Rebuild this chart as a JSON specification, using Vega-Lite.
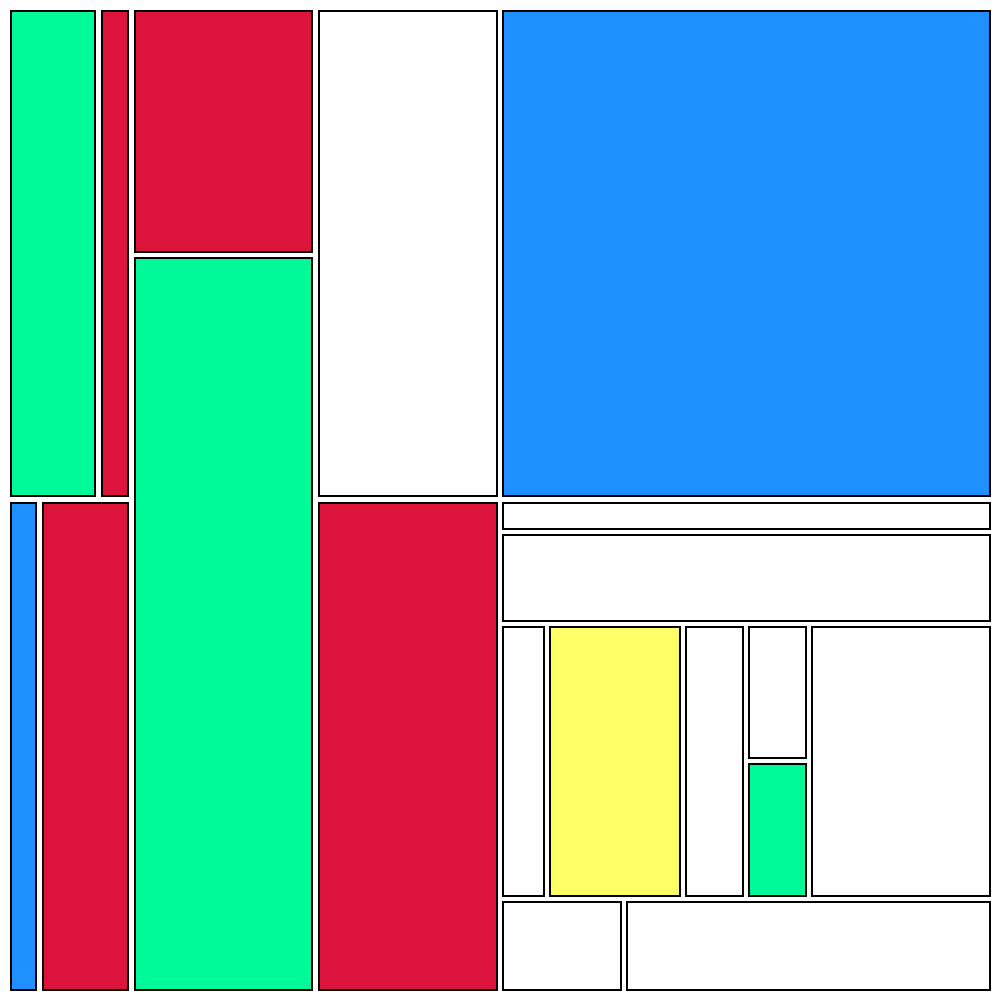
{
  "$schema": "https://vega.github.io/schema/vega-lite/v6.json",
  "width": 1000,
  "height": 1000,
  "padding": 0,
  "autosize": {"type": "none"},
  "background": "white",
  "config": {"view": {"stroke": null}},
  "data": {"values": [
    {"x": 11, "x2": 95, "y": 11, "y2": 496, "c": "green"},
    {"x": 102, "x2": 128, "y": 11, "y2": 496, "c": "red"},
    {"x": 135, "x2": 312, "y": 11, "y2": 252, "c": "red"},
    {"x": 135, "x2": 312, "y": 258, "y2": 990, "c": "green"},
    {"x": 319, "x2": 497, "y": 11, "y2": 496, "c": "white"},
    {"x": 503, "x2": 990, "y": 11, "y2": 496, "c": "blue"},
    {"x": 11, "x2": 36, "y": 503, "y2": 990, "c": "blue"},
    {"x": 43, "x2": 128, "y": 503, "y2": 990, "c": "red"},
    {"x": 319, "x2": 497, "y": 503, "y2": 990, "c": "red"},
    {"x": 503, "x2": 990, "y": 503, "y2": 529, "c": "white"},
    {"x": 503, "x2": 990, "y": 535, "y2": 621, "c": "white"},
    {"x": 503, "x2": 544, "y": 627, "y2": 896, "c": "white"},
    {"x": 550, "x2": 680, "y": 627, "y2": 896, "c": "yellow"},
    {"x": 686, "x2": 743, "y": 627, "y2": 896, "c": "white"},
    {"x": 749, "x2": 806, "y": 627, "y2": 758, "c": "white"},
    {"x": 749, "x2": 806, "y": 764, "y2": 896, "c": "green"},
    {"x": 812, "x2": 990, "y": 627, "y2": 896, "c": "white"},
    {"x": 503, "x2": 621, "y": 902, "y2": 990, "c": "white"},
    {"x": 627, "x2": 990, "y": 902, "y2": 990, "c": "white"}
  ]},
  "mark": {"type": "rect", "stroke": "black", "strokeWidth": 2},
  "encoding": {
    "x": {"field": "x", "type": "quantitative", "scale": {"domain": [0, 1000], "nice": false, "zero": false}, "axis": null},
    "x2": {"field": "x2"},
    "y": {"field": "y", "type": "quantitative", "scale": {"domain": [0, 1000], "nice": false, "zero": false, "reverse": true}, "axis": null},
    "y2": {"field": "y2"},
    "color": {"field": "c", "type": "nominal", "legend": null,
      "scale": {"domain": ["green", "red", "white", "blue", "yellow"],
                "range": ["#00FA9A", "#DC143C", "#FFFFFF", "#1E90FF", "#FFFF66"]}}
  }
}
